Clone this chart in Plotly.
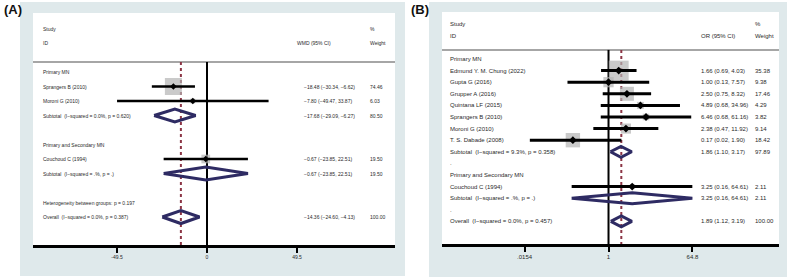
import plotly.graph_objects as go

W, H = 790, 278

# ---------------- Panel A (WMD) data ----------------
A_rows = ["Primary MN", "Sprangers B (2010)", "Moroni G (2010)",
          "Subtotal  (I-squared = 0.0%, p = 0.620)", "",
          "Primary and Secondary MN", "Couchoud C (1994)",
          "Subtotal  (I-squared = .%, p = .)", "",
          "Heterogeneity between groups: p = 0.197",
          "Overall  (I-squared = 0.0%, p = 0.387)"]
A_study = ["Sprangers B (2010)", "Moroni G (2010)", "Couchoud C (1994)"]
A_study_est = [-18.48, -7.80, -0.67]
A_study_lo = [-30.34, -49.47, -23.85]
A_study_hi = [-6.62, 33.87, 22.51]
A_study_wt = [74.46, 6.03, 19.50]
A_pool = ["Subtotal  (I-squared = 0.0%, p = 0.620)",
          "Subtotal  (I-squared = .%, p = .)",
          "Overall  (I-squared = 0.0%, p = 0.387)"]
A_pool_est = [-17.68, -0.67, -14.36]
A_pool_lo = [-29.09, -23.85, -24.60]
A_pool_hi = [-6.27, 22.51, -4.13]
A_pool_wt = [80.50, 19.50, 100.00]
A_ticks = [-49.5, 0, 49.5]
A_tick_labels = ["-49.5", "0", "49.5"]
A_null = 0
A_effect_header = "WMD (95% CI)"

# ---------------- Panel B (OR) data ----------------
B_rows = ["Primary MN", "Edmund Y. M. Chung (2022)", "Gupta G (2016)",
          "Grupper A (2016)", "Quintana LF (2015)", "Sprangers B (2010)",
          "Moroni G (2010)", "T. S. Dabade (2008)",
          "Subtotal  (I-squared = 9.3%, p = 0.358)", ".",
          "Primary and Secondary MN", "Couchoud C (1994)",
          "Subtotal  (I-squared = .%, p = .)", ".",
          "Overall  (I-squared = 0.0%, p = 0.457)"]
B_study = ["Edmund Y. M. Chung (2022)", "Gupta G (2016)", "Grupper A (2016)",
           "Quintana LF (2015)", "Sprangers B (2010)", "Moroni G (2010)",
           "T. S. Dabade (2008)", "Couchoud C (1994)"]
B_study_est = [1.66, 1.00, 2.50, 4.89, 6.46, 2.38, 0.17, 3.25]
B_study_lo = [0.69, 0.13, 0.75, 0.68, 0.68, 0.47, 0.02, 0.16]
B_study_hi = [4.03, 7.57, 8.32, 34.96, 61.16, 11.92, 1.90, 64.61]
B_study_wt = [35.38, 9.38, 17.46, 4.29, 3.82, 9.14, 18.42, 2.11]
B_pool = ["Subtotal  (I-squared = 9.3%, p = 0.358)",
          "Subtotal  (I-squared = .%, p = .)",
          "Overall  (I-squared = 0.0%, p = 0.457)"]
B_pool_est = [1.86, 3.25, 1.89]
B_pool_lo = [1.10, 0.16, 1.12]
B_pool_hi = [3.17, 64.61, 3.19]
B_pool_wt = [97.89, 2.11, 100.00]
B_ticks = [0.0154, 1, 64.8]
B_tick_labels = [".0154", "1", "64.8"]
B_null = 1
B_effect_header = "OR (95% CI)"

# ---------------- styles ----------------
FONT = "Liberation Sans"
TXT = "#2a2a2a"
LIGHT = "#dfe9eb"
BOXC = "#b3b3b3"
NAVY = "#2e2b63"
DOT = "#8c3545"


def px_x(p):
    return p / W


def px_y(p):
    return 1 - p / H


fig = go.Figure()

panels = [
    dict(rows=A_rows, study=A_study, est=A_study_est, lo=A_study_lo, hi=A_study_hi,
         wt=A_study_wt, pool=A_pool, pest=A_pool_est, plo=A_pool_lo, phi=A_pool_hi,
         pwt=A_pool_wt, null=A_null, header=A_effect_header,
         xa="x", ya="y", fs=5, boxk=1.97, ciw=2.5, dh=0.45, sep=-0.69, bottom=11.93,
         dotsize=5, minus=True,
         xlab=0.022, xci_h=0.724, xci=0.743, xw=0.925),
    dict(rows=B_rows, study=B_study, est=B_study_est, lo=B_study_lo, hi=B_study_hi,
         wt=B_study_wt, pool=B_pool, pest=B_pool_est, plo=B_pool_lo, phi=B_pool_hi,
         pwt=B_pool_wt, null=B_null, header=B_effect_header,
         xa="x2", ya="y2", fs=6, boxk=3.35, ciw=3, dh=0.47, sep=-0.78, bottom=15.95,
         dotsize=6, minus=False,
         xlab=0.018, xci_h=0.763, xci=0.763, xw=0.923),
]

shapes = []
annotations = []

# background panels (paper coordinates)
for (lx0, ly0, lx1, ly1), (wx0, wy0, wx1, wy1) in [
        ((20, 2, 405, 276), (33, 13, 395, 245)),
        ((429, 2, 787, 277), (442, 12, 779, 244))]:
    shapes.append(dict(type="rect", xref="paper", yref="paper", layer="below",
                       x0=px_x(lx0), x1=px_x(lx1), y0=px_y(ly1), y1=px_y(ly0),
                       fillcolor=LIGHT, line=dict(width=0)))
    shapes.append(dict(type="rect", xref="paper", yref="paper", layer="below",
                       x0=px_x(wx0), x1=px_x(wx1), y0=px_y(wy1), y1=px_y(wy0),
                       fillcolor="white", line=dict(width=0)))

for P in panels:
    xa, ya = P["xa"], P["ya"]
    xdom = xa + " domain"
    rows = P["rows"]
    srow = [rows.index(s) for s in P["study"]]
    prow = [rows.index(s) for s in P["pool"]]
    overall = P["pest"][-1]

    # separator, null line, overall dotted line
    shapes.append(dict(type="line", xref=xdom, yref=ya, x0=0, x1=1,
                       y0=P["sep"], y1=P["sep"], layer="below",
                       line=dict(color="#a6a6a6", width=2)))
    shapes.append(dict(type="line", xref=xa, yref=ya, x0=P["null"], x1=P["null"],
                       y0=P["sep"], y1=P["bottom"], layer="below",
                       line=dict(color="black", width=2)))
    shapes.append(dict(type="line", xref=xa, yref=ya, x0=overall, x1=overall,
                       y0=P["sep"], y1=P["bottom"], layer="below",
                       line=dict(color=DOT, width=2, dash="dot")))

    # weight boxes
    fig.add_trace(go.Scatter(
        x=P["est"], y=srow, mode="markers", xaxis=xa, yaxis=ya,
        marker=dict(symbol="square", color=BOXC,
                    size=[P["boxk"] * w ** 0.5 for w in P["wt"]],
                    line=dict(width=0)),
        hoverinfo="skip"))
    # CI lines
    cx, cy = [], []
    for r, lo, hi in zip(srow, P["lo"], P["hi"]):
        cx += [lo, hi, None]
        cy += [r, r, None]
    fig.add_trace(go.Scatter(x=cx, y=cy, mode="lines", xaxis=xa, yaxis=ya,
                             line=dict(color="black", width=P["ciw"]),
                             hoverinfo="skip"))
    # point estimates
    fig.add_trace(go.Scatter(
        x=P["est"], y=srow, mode="markers", xaxis=xa, yaxis=ya,
        marker=dict(symbol="diamond", color="black", size=P["dotsize"]),
        hoverinfo="skip"))
    # pooled diamonds
    dx, dy = [], []
    h = P["dh"]
    for r, e, lo, hi in zip(prow, P["pest"], P["plo"], P["phi"]):
        dx += [lo, e, hi, e, lo, None]
        dy += [r, r - h, r, r + h, r, None]
    fig.add_trace(go.Scatter(x=dx, y=dy, mode="lines", xaxis=xa, yaxis=ya,
                             line=dict(color=NAVY, width=3),
                             hoverinfo="skip"))

    # text
    fnt = dict(family=FONT, size=P["fs"], color=TXT)

    def ann(x, y, text):
        annotations.append(dict(xref=xdom, yref=ya, x=x, y=y, text=text,
                                showarrow=False, xanchor="left",
                                yanchor="middle", font=fnt))

    ann(P["xlab"], -3, "Study")
    ann(P["xlab"], -2, "ID")
    ann(P["xci_h"], -2, P["header"])
    ann(P["xw"], -3, "%")
    ann(P["xw"], -2, "Weight")
    for i, lab in enumerate(rows):
        if lab:
            t = lab.replace("I-squared", "I\u2212squared")
            ann(P["xlab"], i, t)

    def fmt(e, lo, hi):
        s = f"{e:.2f} ({lo:.2f}, {hi:.2f})"
        if P["minus"]:
            s = s.replace("-", "\u2212")
        return s

    for r, e, lo, hi, w in zip(srow, P["est"], P["lo"], P["hi"], P["wt"]):
        ann(P["xci"], r, fmt(e, lo, hi))
        ann(P["xw"], r, f"{w:.2f}")
    for r, e, lo, hi, w in zip(prow, P["pest"], P["plo"], P["phi"], P["pwt"]):
        ann(P["xci"], r, fmt(e, lo, hi))
        ann(P["xw"], r, f"{w:.2f}")

# panel labels
for txt, x in [("(A)", 2), ("(B)", 409)]:
    annotations.append(dict(xref="paper", yref="paper", x=px_x(x), y=px_y(9),
                            text=f"<b>{txt}</b>", showarrow=False,
                            xanchor="left", yanchor="middle",
                            font=dict(family=FONT, size=13, color="#111")))

axis_common = dict(showline=True, linecolor="black", linewidth=2.5,
                   ticks="outside", ticklen=5, tickwidth=2, tickcolor="black",
                   showgrid=False, zeroline=False, fixedrange=True)

fig.update_layout(
    width=W, height=H, margin=dict(l=0, r=0, t=0, b=0),
    paper_bgcolor="white", plot_bgcolor="rgba(0,0,0,0)", showlegend=False,
    shapes=shapes, annotations=annotations,
    xaxis=dict(domain=[px_x(33), px_x(395)], range=[-95.7, 103.4], anchor="y",
               tickvals=A_ticks, ticktext=A_tick_labels,
               tickfont=dict(family=FONT, size=5, color=TXT), **axis_common),
    yaxis=dict(domain=[px_y(245), px_y(13)], range=[11.93, -4.07],
               visible=False, anchor="x", fixedrange=True),
    xaxis2=dict(type="log", domain=[px_x(442), px_x(779)], range=[-3.596, 3.682],
                anchor="y2", tickvals=B_ticks, ticktext=B_tick_labels,
                tickfont=dict(family=FONT, size=6, color=TXT), **axis_common),
    yaxis2=dict(domain=[px_y(244), px_y(12)], range=[15.95, -4.05],
                visible=False, anchor="x2", fixedrange=True),
)

fig.write_html("out.html", config={"displayModeBar": False},
               post_script="document.body.style.margin='0px';"
                           "document.body.style.padding='0px';")
